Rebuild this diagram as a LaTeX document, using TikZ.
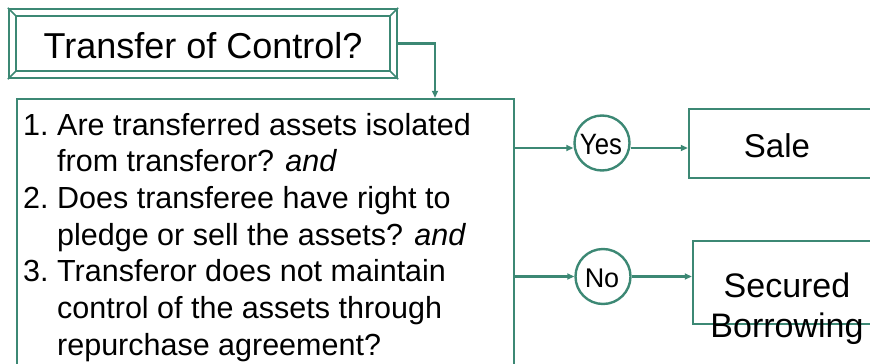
\documentclass[tikz,border=0pt]{standalone}
\usepackage{fontspec}
\setmainfont{Liberation Sans}
\usetikzlibrary{arrows.meta,calc}
\definecolor{teal1}{RGB}{60,136,116}
\tikzset{
  box/.style={draw=teal1, line width=2.4pt, rectangle, inner sep=0pt},
  circ/.style={draw=teal1, line width=2.4pt, circle, inner sep=0pt, minimum size=55pt},
  conn/.style={draw=teal1, line width=2.2pt, -{Triangle[length=7pt,width=6pt]}},
  txt/.style={inner sep=0pt, anchor=base west, font=\fontsize{30.5}{36}\selectfont},
}
\begin{document}
\begin{tikzpicture}[x=1pt,y=-1pt]
\useasboundingbox (0,0) rectangle (870,364);
\clip (0,0) rectangle (870,364);
% title with bevelled frame
\node[box, minimum width=388pt, minimum height=69pt] (title) at (203,43.5) {};
\draw[teal1, line width=2.4pt] ($(title.north west)+(8,8)$) rectangle ($(title.south east)+(-8,-8)$);
\draw[teal1, line width=1.5pt]
  (title.north west) -- ($(title.north west)+(8,8)$)
  (title.north east) -- ($(title.north east)+(-8,8)$)
  (title.south west) -- ($(title.south west)+(8,-8)$)
  (title.south east) -- ($(title.south east)+(-8,-8)$);
\node[inner sep=0pt, anchor=base, font=\fontsize{36}{40}\selectfont] (ttext) at (203,58) {Transfer of Control?};
% main condition box
\node[box, minimum width=497pt, minimum height=301pt] (cond) at (265.5,249.5) {};
\node[txt] (l1) at (23,135) {\makebox[34pt][l]{1.}Are transferred assets isolated};
\node[txt] (l2) at (57,171.7) {from transferor? \textit{and}};
\node[txt] (l3) at (23,208.3) {\makebox[34pt][l]{2.}Does transferee have right to};
\node[txt] (l4) at (57,245) {pledge or sell the assets? \textit{and}};
\node[txt] (l5) at (23,281.7) {\makebox[34pt][l]{3.}Transferor does not maintain};
\node[txt] (l6) at (57,318.3) {control of the assets through};
\node[txt] (l7) at (57,355) {repurchase agreement?};
% decision circles
\node[circ] (yes) at (602,143) {};
\node[inner sep=0pt, anchor=base, font=\fontsize{28}{30}\selectfont] (yestext) at (601,154) {\scalebox{0.92}[1.05]{Yes}};
\node[circ] (no) at (603,276.5) {};
\node[inner sep=0pt, anchor=base, font=\fontsize{27}{30}\selectfont] (notext) at (602,287) {No};
% outcome boxes
\node[box, minimum width=220pt, minimum height=69pt] (sale) at (799,143.5) {};
\node[inner sep=0pt, anchor=base, font=\fontsize{33}{38}\selectfont] (saletext) at (777,157) {Sale};
\node[box, minimum width=216pt, minimum height=83pt] (sec) at (801,282.5) {};
\node[inner sep=0pt, anchor=base, align=center, font=\fontsize{34}{40}\selectfont] (sectext) at (787,337) {Secured\\Borrowing};
% connectors
\draw[conn] (title.east) -| (cond.north -| 435,0);
\draw[conn] (cond.east |- 0,148) -- ($(yes.west)+(0,5)$);
\draw[conn] ($(yes.east)+(0,5)$) -- (sale.west |- 0,148);
\draw[conn] (cond.east |- no) -- (no.west);
\draw[conn] (no.east) -- (sec.west |- no);
\end{tikzpicture}
\end{document}
